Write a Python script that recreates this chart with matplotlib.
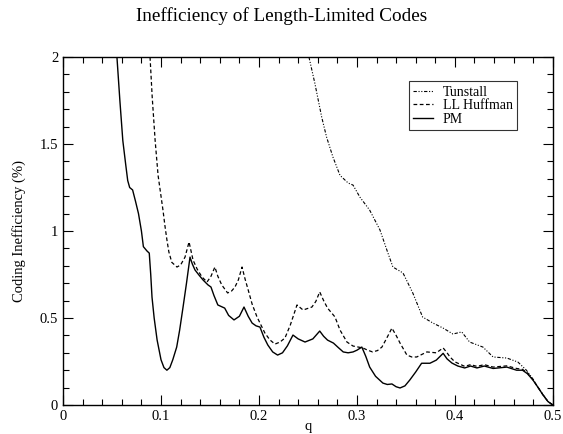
import matplotlib
matplotlib.use("Agg")
import matplotlib.pyplot as plt
from matplotlib.ticker import MultipleLocator, FormatStrFormatter

plt.rcParams['font.family'] = ['Liberation Serif', 'DejaVu Serif']

# PM (solid)
pm_q = [0.055, 0.058, 0.061, 0.064, 0.066, 0.068, 0.071, 0.074, 0.077, 0.080,
        0.082, 0.0857, 0.088, 0.0895, 0.0908, 0.093, 0.096, 0.100, 0.103, 0.106,
        0.109, 0.112, 0.116, 0.119, 0.1225, 0.126, 0.1296, 0.132, 0.1347, 0.139,
        0.143, 0.148, 0.151, 0.154, 0.158, 0.165, 0.169, 0.1745, 0.180, 0.1847,
        0.189, 0.193, 0.197, 0.201, 0.205, 0.209, 0.214, 0.219, 0.224, 0.229,
        0.2347, 0.240, 0.247, 0.255, 0.262, 0.266, 0.270, 0.276, 0.281, 0.286,
        0.291, 0.296, 0.300, 0.305, 0.309, 0.313, 0.319, 0.3265, 0.331, 0.3357,
        0.340, 0.344, 0.349, 0.354, 0.360, 0.366, 0.3745, 0.381, 0.388, 0.392,
        0.397, 0.403, 0.410, 0.416, 0.4225, 0.430, 0.439, 0.453, 0.463, 0.469,
        0.474, 0.4796, 0.485, 0.490, 0.495, 0.500]
pm_val = [2.0, 1.75, 1.52, 1.38, 1.29, 1.25, 1.236, 1.17, 1.10, 1.00,
          0.91, 0.885, 0.873, 0.75, 0.62, 0.50, 0.374, 0.26, 0.215, 0.20,
          0.215, 0.26, 0.333, 0.43, 0.563, 0.70, 0.85, 0.81, 0.776, 0.745,
          0.718, 0.69, 0.678, 0.63, 0.575, 0.557, 0.515, 0.489, 0.51, 0.563,
          0.51, 0.471, 0.455, 0.448, 0.39, 0.345, 0.305, 0.287, 0.30, 0.34,
          0.402, 0.38, 0.362, 0.38, 0.425, 0.395, 0.373, 0.356, 0.33, 0.305,
          0.30, 0.305, 0.315, 0.333, 0.28, 0.218, 0.165, 0.126, 0.118, 0.121,
          0.105, 0.098, 0.11, 0.144, 0.19, 0.24, 0.24, 0.258, 0.297, 0.265,
          0.241, 0.224, 0.213, 0.224, 0.213, 0.224, 0.21, 0.218, 0.20, 0.20,
          0.18, 0.144, 0.10, 0.057, 0.02, 0.0]

# LL Huffman (dashed)
ll_q = [0.0888, 0.091, 0.094, 0.097, 0.100, 0.102, 0.104, 0.106, 0.108, 0.111,
        0.1163, 0.120, 0.1245, 0.1286, 0.1327, 0.137, 0.1418, 0.147, 0.151, 0.155,
        0.158, 0.162, 0.168, 0.172, 0.1755, 0.179, 0.1827, 0.186, 0.189, 0.193,
        0.198, 0.206, 0.211, 0.2163, 0.2215, 0.2265, 0.232, 0.2388, 0.245, 0.254,
        0.258, 0.262, 0.266, 0.270, 0.2776, 0.2827, 0.2898, 0.296, 0.306, 0.311,
        0.316, 0.321, 0.3255, 0.330, 0.3357, 0.340, 0.344, 0.351, 0.356, 0.361,
        0.3714, 0.381, 0.388, 0.392, 0.395, 0.400, 0.405, 0.410, 0.416, 0.4225,
        0.430, 0.439, 0.453, 0.463, 0.469, 0.474, 0.4796, 0.485, 0.490, 0.495,
        0.500]
ll_val = [2.0, 1.77, 1.52, 1.32, 1.20, 1.12, 1.03, 0.95, 0.88, 0.82,
          0.793, 0.805, 0.85, 0.937, 0.833, 0.78, 0.736, 0.707, 0.74, 0.793,
          0.74, 0.69, 0.644, 0.655, 0.678, 0.72, 0.793, 0.72, 0.661, 0.58,
          0.506, 0.414, 0.375, 0.35, 0.362, 0.385, 0.46, 0.575, 0.546, 0.563,
          0.595, 0.65, 0.60, 0.557, 0.506, 0.431, 0.362, 0.339, 0.328, 0.315,
          0.305, 0.313, 0.333, 0.38, 0.442, 0.40, 0.356, 0.287, 0.276, 0.276,
          0.305, 0.30, 0.328, 0.30, 0.276, 0.248, 0.235, 0.222, 0.232, 0.222,
          0.232, 0.218, 0.225, 0.21, 0.205, 0.185, 0.146, 0.10, 0.058, 0.02,
          0.0]

# Tunstall (dash-dot-dot)
tu_q = [0.251, 0.257, 0.264, 0.269, 0.2755, 0.2827, 0.291, 0.296, 0.303, 0.313,
        0.3235, 0.3306, 0.3367, 0.347, 0.357, 0.367, 0.3776, 0.388, 0.398, 0.407,
        0.415, 0.4286, 0.439, 0.453, 0.4643, 0.473, 0.4796, 0.485, 0.490, 0.495,
        0.500]
tu_val = [2.0, 1.85, 1.655, 1.54, 1.425, 1.32, 1.276, 1.264, 1.195, 1.12,
          1.006, 0.89, 0.793, 0.759, 0.644, 0.506, 0.471, 0.442, 0.408, 0.42,
          0.362, 0.333, 0.276, 0.27, 0.247, 0.20, 0.15, 0.10, 0.06, 0.02,
          0.0]

fig = plt.figure(figsize=(5.63, 4.34), dpi=100)
ax = fig.add_axes([0.112, 0.0668, 0.870, 0.8018])

ax.plot(tu_q, tu_val, color='k', linewidth=0.8, dashes=(3, 1.5, 1, 1.5, 1, 1.5),
        label='Tunstall')
ax.plot(ll_q, ll_val, color='k', linewidth=0.9, dashes=(3, 2), label='LL Huffman')
ax.plot(pm_q, pm_val, color='k', linewidth=1.0, label='PM')

ax.set_xlim(0, 0.5)
ax.set_ylim(0, 2)
ax.xaxis.set_major_locator(MultipleLocator(0.1))
ax.xaxis.set_minor_locator(MultipleLocator(0.02))
ax.yaxis.set_major_locator(MultipleLocator(0.5))
ax.yaxis.set_minor_locator(MultipleLocator(0.1))
ax.xaxis.set_major_formatter(FormatStrFormatter('%g'))
ax.yaxis.set_major_formatter(FormatStrFormatter('%g'))
ax.tick_params(which='both', direction='in', top=True, right=True, labelsize=10.5,
               width=0.8)
ax.tick_params(which='major', length=7)
ax.tick_params(which='minor', length=4)
for s in ax.spines.values():
    s.set_linewidth(1.0)

ax.set_xlabel('q', fontsize=10.5)
ax.xaxis.set_label_coords(0.5, -0.043)
ax.set_ylabel('Coding Inefficiency (%)', fontsize=10.5, labelpad=10)
fig.suptitle('Inefficiency of Length-Limited Codes', fontsize=13.8, y=0.983)

leg = ax.legend(loc='upper right', bbox_to_anchor=(0.927, 0.93), fontsize=10,
                frameon=True, fancybox=False, handlelength=1.45, borderpad=0.3,
                labelspacing=0.05, handletextpad=0.7, borderaxespad=0)
leg.get_frame().set_edgecolor('k')
leg.get_frame().set_linewidth(0.8)

fig.savefig('out.png', dpi=100)
